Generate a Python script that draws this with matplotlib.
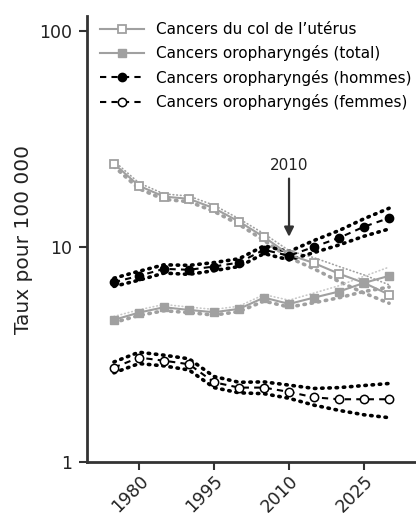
import matplotlib.pyplot as plt
import numpy as np

years = [1975, 1980, 1985, 1990, 1995, 2000, 2005, 2010, 2015, 2020, 2025, 2030]

uterus = [24.3, 19.2, 17.1, 16.7, 15.1, 13.1, 11.1, 9.2, 8.4, 7.5, 6.8, 6.0]
uterus_lo = [23.6, 18.6, 16.6, 16.2, 14.6, 12.7, 10.7, 8.9, 7.9, 6.9, 6.1, 5.47]
uterus_hi = [25.0, 19.8, 17.6, 17.2, 15.6, 13.5, 11.5, 9.6, 8.9, 8.1, 7.4, 6.66]

total = [4.58, 4.95, 5.24, 5.09, 4.97, 5.15, 5.81, 5.43, 5.81, 6.2, 6.8, 7.33]
total_lo = [4.45, 4.8, 5.05, 4.95, 4.82, 5.0, 5.6, 5.25, 5.5, 5.8, 6.2, 6.5]
total_hi = [4.75, 5.1, 5.4, 5.25, 5.12, 5.3, 6.0, 5.65, 6.1, 6.6, 7.3, 8.05]

hommes = [6.85, 7.33, 7.9, 7.82, 8.1, 8.45, 9.69, 9.08, 10.0, 11.0, 12.4, 13.6]
hommes_lo = [6.55, 7.0, 7.55, 7.45, 7.75, 8.1, 9.3, 8.7, 9.4, 10.2, 11.2, 12.1]
hommes_hi = [7.15, 7.7, 8.25, 8.2, 8.45, 8.8, 10.1, 9.5, 10.7, 11.9, 13.5, 15.1]

femmes = [2.75, 3.06, 2.96, 2.85, 2.35, 2.22, 2.22, 2.12, 2.0, 1.96, 1.96, 1.96]
femmes_lo = [2.6, 2.87, 2.8, 2.68, 2.22, 2.1, 2.08, 1.98, 1.84, 1.74, 1.66, 1.61]
femmes_hi = [2.92, 3.24, 3.14, 3.02, 2.5, 2.35, 2.36, 2.28, 2.2, 2.22, 2.27, 2.32]

gray = '#a0a0a0'
dark = '#333333'
txt = '#222222'

plt.rcParams['font.family'] = ['DejaVu Sans']

fig = plt.figure(figsize=(4.16, 5.13), dpi=100)
ax = fig.add_axes([0.209, 0.099, 0.79, 0.87])

dot = dict(linestyle=(0, (0.4, 1.6)), dash_capstyle='round', linewidth=2.6)
thin_dot = dict(linestyle=(0, (0.4, 1.8)), dash_capstyle='round', linewidth=1.2)

# confidence bands
ax.plot(years, uterus_lo, color=gray, **dot)
ax.plot(years, uterus_hi, color=gray, **thin_dot)
ax.plot(years, total_lo, color=gray, **dot)
ax.plot(years, total_hi, color='#c8c8c8', **thin_dot)
ax.plot(years, hommes_lo, color='black', **dot)
ax.plot(years, hommes_hi, color='black', **dot)
ax.plot(years, femmes_lo, color='black', **dot)
ax.plot(years, femmes_hi, color='black', **dot)

# main series
ax.plot(years, uterus, color=gray, lw=1.5, marker='s', ms=5.5, mfc='white', mec=gray, mew=1.3,
        label="Cancers du col de l\u2019utérus")
ax.plot(years, total, color=gray, lw=1.5, marker='s', ms=5.5, mfc=gray, mec=gray,
        label='Cancers oropharyngés (total)')
ax.plot(years, hommes, color='black', lw=1.5, ls=(0, (3, 2.5)), marker='o', ms=6, mfc='black', mec='black',
        label='Cancers oropharyngés (hommes)')
ax.plot(years, femmes, color='black', lw=1.5, ls=(0, (3, 2.5)), marker='o', ms=6, mfc='white', mec='black', mew=1.1,
        label='Cancers oropharyngés (femmes)')

ax.set_yscale('log')
ax.set_ylim(1, 118)
ax.set_xlim(1969.6, 2035.3)
ax.set_yticks([1, 10, 100])
ax.set_yticklabels(['1', '10', '100'])
ax.minorticks_off()
ax.set_xticks([1980, 1995, 2010, 2025])
ax.set_xticklabels(['1980', '1995', '2010', '2025'], rotation=45, ha='right', rotation_mode='anchor')
ax.tick_params(labelsize=12.5, length=6, width=1.5, pad=5, color=dark, labelcolor=txt)
ax.tick_params(axis='x', pad=1)
ax.set_ylabel('Taux pour 100 000', fontsize=14.5, color=txt, labelpad=4)

for s in ['top', 'right']:
    ax.spines[s].set_visible(False)
for s in ['left', 'bottom']:
    ax.spines[s].set_color(dark)
    ax.spines[s].set_linewidth(2)

ax.annotate('2010', xy=(2010, 10.8), xytext=(2010, 22.0), ha='center', va='bottom', fontsize=11,
            color=txt,
            arrowprops=dict(arrowstyle='-|>', color=dark, lw=1.6, mutation_scale=14))

ax.legend(loc='upper left', bbox_to_anchor=(100 / 416, 1 - 22 / 513), bbox_transform=fig.transFigure,
          frameon=False, fontsize=11, handlelength=2.9, handletextpad=0.75, labelspacing=0.55,
          borderaxespad=0, borderpad=0)

fig.savefig('out.png', dpi=100)
